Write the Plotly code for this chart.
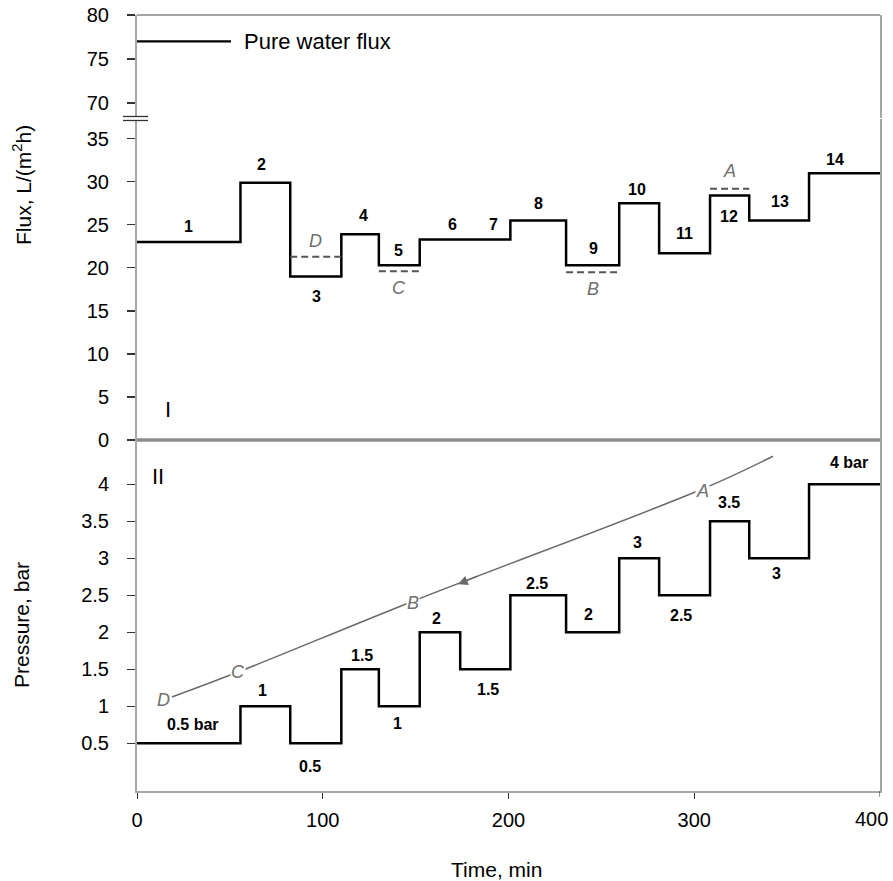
import plotly.graph_objects as go

# ---------------- data ----------------
step_edges = [0, 55.7, 82.5, 110.0, 130.2, 152.2, 174.0, 201.0, 231.0, 259.6, 281.1, 308.5, 329.6, 361.8, 400]
flux_values = [23.0, 29.9, 19.0, 23.9, 20.3, 23.3, 23.3, 25.5, 20.3, 27.5, 21.7, 28.4, 25.5, 31.0]
pressure_values = [0.5, 1, 0.5, 1.5, 1, 2, 1.5, 2.5, 2, 3, 2.5, 3.5, 3, 4]

flux_step_labels = [str(i) for i in range(1, 15)]
flux_label_t = [27.5, 66.8, 96.4, 122.2, 141, 169.6, 191.7, 215.9, 245.5, 269.2, 294.5, 318.7, 346.2, 375.8]
flux_label_up = [16, 18, -20, 19, 15, 15, 15, 17, 17, 14, 20, -21, 19, 14]

pressure_labels = ['0.5 bar', '1', '0.5', '1.5', '1', '2', '1.5', '2.5', '2', '3', '2.5', '3.5', '3', '4 bar']
pressure_label_t = [30.1, 67.8, 93.1, 121.1, 140.5, 161.5, 189, 215.3, 243.3, 269.7, 292.9, 318.7, 344.5, 383.3]
pressure_label_up = [19, 16, -23, 14, -17, 14, -20, 12, 18, 16, -20, 19, -15, 22]

ref_steps = [2, 4, 8, 11]
ref_flux = [21.3, 19.6, 19.5, 29.2]
ref_names = ['D', 'C', 'B', 'A']
ref_label_up = [16, -17, -17, 18]

pure_water_t = [0, 50.6]
pure_water_flux = [77, 77]

path_t = [18.8, 54.4, 148.6, 304.7, 342.4]
path_p = [1.124, 1.462, 2.42, 3.94, 4.38]
path_label_t = [14, 54.4, 148.6, 304.7]
path_label_p = [1.083, 1.462, 2.395, 3.91]
path_names = ['D', 'C', 'B', 'A']
arrow_tip = (172.8, 2.65)

flux_ticks_low = [0, 5, 10, 15, 20, 25, 30, 35]
flux_ticks_high = [70, 75, 80]
pressure_ticks = [0.5, 1, 1.5, 2, 2.5, 3, 3.5, 4]
pressure_tick_text = ['0.5', '1', '1.5', '2', '2.5', '3', '3.5', '4']
time_ticks = [0, 100, 200, 300, 400]
time_tick_text = ['0', '100', '200', '300', '400']

# ---------------- figure ----------------
FONT = "Liberation Sans, Arial, sans-serif"
AX = '#a6a6a6'
W, H = 893, 881
ML, MR, MT, MB = 137, 13, 15, 90
PH = H - MT - MB
PW = W - ML - MR

def py(pix):   # screen pixel y -> paper fraction
    return (H - MB - pix) / PH

def px(pix):   # screen pixel x -> paper fraction
    return (pix - ML) / PW

fig = go.Figure()

fig.add_trace(go.Scatter(x=step_edges, y=pressure_values + [pressure_values[-1]],
                         mode='lines', line=dict(color='black', width=2.5, shape='hv'),
                         xaxis='x', yaxis='y', showlegend=False, hoverinfo='skip'))
fig.add_trace(go.Scatter(x=path_t, y=path_p, mode='lines', line=dict(color='#6a6a6a', width=1.5, shape='spline'),
                         xaxis='x', yaxis='y', showlegend=False, hoverinfo='skip'))
fig.add_trace(go.Scatter(x=step_edges, y=flux_values + [flux_values[-1]],
                         mode='lines', line=dict(color='black', width=2.5, shape='hv'),
                         xaxis='x2', yaxis='y2', showlegend=False, hoverinfo='skip'))
for i, v in zip(ref_steps, ref_flux):
    fig.add_trace(go.Scatter(x=[step_edges[i], step_edges[i + 1]], y=[v, v], mode='lines',
                             line=dict(color='#555555', width=2, dash='7px,4px'),
                             xaxis='x2', yaxis='y2', showlegend=False, hoverinfo='skip'))
fig.add_trace(go.Scatter(x=pure_water_t, y=pure_water_flux, mode='lines',
                         line=dict(color='black', width=2.2),
                         xaxis='x3', yaxis='y3', showlegend=False, hoverinfo='skip'))

ann = []
lab_font = dict(family=FONT, size=16, color='black')
for t, v, txt, up in zip(flux_label_t, flux_values, flux_step_labels, flux_label_up):
    ann.append(dict(x=t, y=v, xref='x2', yref='y2', text='<b>%s</b>' % txt, showarrow=False,
                    yshift=up, font=lab_font))
for t, v, txt, up in zip(pressure_label_t, pressure_values, pressure_labels, pressure_label_up):
    ann.append(dict(x=t, y=v, xref='x', yref='y', text='<b>%s</b>' % txt, showarrow=False,
                    yshift=up, font=lab_font))
for i, v, nm, up in zip(ref_steps, ref_flux, ref_names, ref_label_up):
    ann.append(dict(x=(step_edges[i] + step_edges[i + 1]) / 2, y=v, xref='x2', yref='y2',
                    text='<i>%s</i>' % nm, showarrow=False, yshift=up,
                    font=dict(family=FONT, size=18, color='#707070')))
for t, p, nm in zip(path_label_t, path_label_p, path_names):
    ann.append(dict(x=t, y=p, xref='x', yref='y', text='<i>%s</i>' % nm, showarrow=False,
                    bgcolor='white', borderpad=0,
                    font=dict(family=FONT, size=18, color='#707070')))
ann.append(dict(x=arrow_tip[0], y=arrow_tip[1], xref='x', yref='y', ax=22, ay=-9,
                axref='pixel', ayref='pixel', text=' ', showarrow=True, arrowhead=2,
                arrowsize=1.3, arrowwidth=1.5, arrowcolor='#6a6a6a'))
ann.append(dict(x=56.5, y=77, xref='x3', yref='y3', text='Pure water flux', showarrow=False,
                xanchor='left', font=dict(family=FONT, size=22, color='black')))
ann.append(dict(x=16.7, y=3.5, xref='x2', yref='y2', text='I', showarrow=False,
                font=dict(family=FONT, size=22, color='black')))
ann.append(dict(x=11.3, y=4.1, xref='x', yref='y', text='II', showarrow=False,
                font=dict(family=FONT, size=22, color='black')))
ann.append(dict(x=px(22), y=py(185), xref='paper', yref='paper', text='Flux, L/(m<sup>2</sup>h)',
                xanchor='center', yanchor='middle',
                textangle=-90, showarrow=False, font=dict(family=FONT, size=21, color='black')))
ann.append(dict(x=px(21), y=py(625), xref='paper', yref='paper', text='Pressure, bar',
                xanchor='center', yanchor='middle',
                textangle=-90, showarrow=False, font=dict(family=FONT, size=21, color='black')))
ann.append(dict(x=px(496), y=py(869), xref='paper', yref='paper', text='Time, min',
                xanchor='center', yanchor='middle',
                showarrow=False, font=dict(family=FONT, size=21, color='black')))
# last time tick label, kept inside the page like the reference
ann.append(dict(x=time_ticks[-1], y=py(819), xref='x', yref='paper', text=time_tick_text[-1],
                xanchor='right', yanchor='middle', xshift=10, showarrow=False,
                font=dict(family=FONT, size=20, color='black')))

shapes = [
    dict(type='line', xref='paper', yref='paper', x0=0, x1=1, y0=1, y1=1,
         line=dict(color=AX, width=2)),
    dict(type='line', xref='paper', yref='paper', x0=0, x1=1, y0=py(440), y1=py(440),
         line=dict(color='#8c8c8c', width=3.5)),
    dict(type='rect', xref='paper', yref='paper', x0=px(130), x1=px(144), y0=py(120), y1=py(117),
         fillcolor='white', line=dict(width=0)),
    dict(type='line', xref='paper', yref='paper', x0=px(123), x1=px(148), y0=py(116.5), y1=py(116.5),
         line=dict(color='#333333', width=1.3)),
    dict(type='line', xref='paper', yref='paper', x0=px(123), x1=px(148), y0=py(120.5), y1=py(120.5),
         line=dict(color='#333333', width=1.3)),
]

tick_font = dict(family=FONT, size=20, color='black')
yax_common = dict(showline=True, linecolor=AX, linewidth=2, mirror=True, ticks='outside',
                  ticklen=8, tickcolor='#333333', tickwidth=1.2, showgrid=False, zeroline=False,
                  tickfont=tick_font, ticklabelstandoff=14, fixedrange=True, automargin=False,
                  ticklabeloverflow='allow')

fig.update_layout(
    width=W, height=H,
    margin=dict(l=ML, r=MR, t=MT, b=MB, pad=0, autoexpand=False),
    paper_bgcolor='white', plot_bgcolor='white',
    showlegend=False,
    font=dict(family=FONT),
    xaxis=dict(domain=[0, 1], range=[0, 400], anchor='y', tickvals=time_ticks[:-1],
               ticktext=time_tick_text[:-1],
               showline=True, linecolor=AX, linewidth=2, ticks='outside', ticklen=6,
               tickcolor='#333333', showgrid=False, zeroline=False, tickfont=tick_font,
               ticklabelstandoff=4, automargin=False, ticklabeloverflow='allow'),
    xaxis2=dict(domain=[0, 1], range=[0, 400], anchor='y2', matches='x', showticklabels=False,
                ticks='', showline=False, showgrid=False, zeroline=False, automargin=False),
    xaxis3=dict(domain=[0, 1], range=[0, 400], anchor='y3', matches='x', showticklabels=False,
                ticks='', showline=False, showgrid=False, zeroline=False, automargin=False),
    yaxis=dict(domain=[0, py(440)], range=[-0.147, 4.6], anchor='x', tickvals=pressure_ticks,
               ticktext=pressure_tick_text, **yax_common),
    yaxis2=dict(domain=[py(440), py(119)], range=[0, 37.3], anchor='x2', tickvals=flux_ticks_low,
                **yax_common),
    yaxis3=dict(domain=[py(118), 1], range=[68.3, 80], anchor='x3', tickvals=flux_ticks_high,
                **yax_common),
    annotations=ann,
    shapes=shapes,
)
# tick mark at 400 (label drawn as annotation above)
fig.add_shape(type='line', xref='x', yref='paper', x0=400, x1=400, y0=0, y1=-6 / PH,
              line=dict(color='#333333', width=1))

fig.write_html("out.html", config={'displayModeBar': False, 'staticPlot': True},
               post_script="document.body.style.margin='0';document.body.style.overflow='hidden';")
